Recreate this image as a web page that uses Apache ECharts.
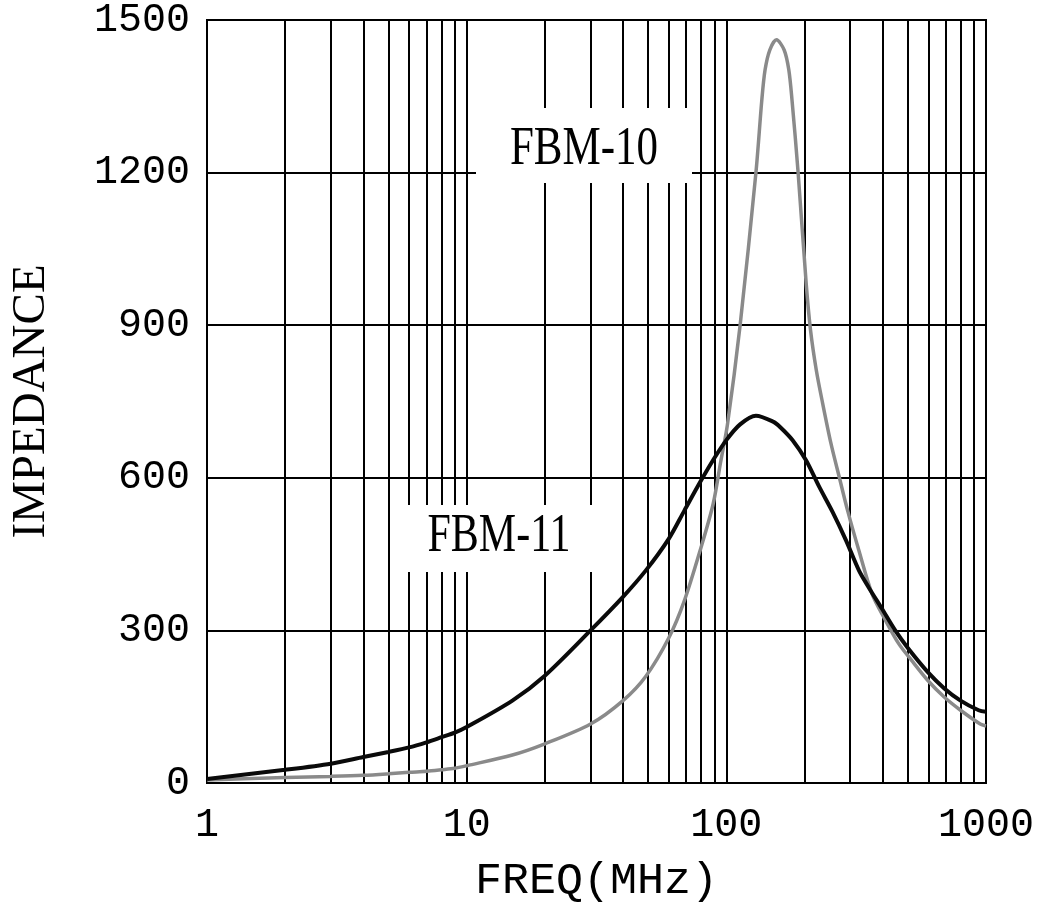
<!DOCTYPE html>
<html>
<head>
<meta charset="utf-8">
<script src="https://cdn.jsdelivr.net/npm/echarts@6/dist/echarts.min.js"></script>
<style>
html,body{margin:0;padding:0;background:#fff;}
#chart{width:1044px;height:919px;}
</style>
</head>
<body>
<div id="chart"></div>
<script>
// FBM-11 (black curve)
const freq11 = [1,2,3,4,5,6,7,8,9,10,15,20,30,40,49,60,69,80,89,100,113,130,152,161,180,203,228,257,289,324,353,397,447,501,597,691,798,937,1000];
const imp11  = [8,26,38,51,61,70,80,90,99,110,162,211,300,366,418,480,536,595,635,674,705,722,710,700,674,634,582,532,477,418,385,343,300,265,218,186,162,143,140];
// FBM-10 (gray curve)
const freq10 = [1,2,3,4,5,6,7,8,9,10,15,20,30,40,49,60,69,80,89,95,101,113,130,137,141,147,156,167,174,179,189,203,211,222,235,253,272,293,324,364,410,461,517,596,690,798,950,1000];
const imp10  = [6,11,13,15,18,21,23,26,29,34,55,77,116,162,210,285,359,464,549,630,705,900,1200,1343,1402,1441,1461,1441,1402,1343,1200,982,890,812,746,667,602,536,457,372,320,274,241,202,169,143,116,112];
// minor vertical grid lines
const minorFreqs = [2,3,4,5,6,7,8,9,20,30,40,50,60,70,80,90,200,300,400,500,600,700,800,900];
const seriesNames = ['FBM-10','FBM-11'];
const xTitle = 'FREQ(MHz)';
const yTitle = 'IMPEDANCE';

const chart = echarts.init(document.getElementById('chart'), null, {renderer:'canvas'});
const zip = (a,b) => a.map((v,i)=>[v,b[i]]);
const option = {
  animation:false,
  backgroundColor:'#ffffff',
  grid:{left:198,right:58,top:19,bottom:136,show:true,borderColor:'#000',borderWidth:2,backgroundColor:'transparent'},
  xAxis:{
    type:'log', logBase:10, min:1, max:1000,
    name:xTitle, nameLocation:'middle', nameGap:76,
    nameTextStyle:{fontFamily:'Liberation Mono',fontSize:45,color:'#000'},
    axisLine:{show:true,lineStyle:{color:'#000',width:2}},
    axisTick:{show:false},
    axisLabel:{fontFamily:'Liberation Mono',fontSize:40,color:'#000',margin:22,showMinLabel:true,showMaxLabel:true,
      formatter:v=>String(Math.round(v))},
    splitLine:{show:true,lineStyle:{color:'#000',width:2}}
  },
  yAxis:{
    type:'value', min:0, max:1500, interval:300,
    name:yTitle, nameLocation:'middle', nameGap:152,
    nameTextStyle:{fontFamily:'Liberation Serif',fontSize:47,color:'#000'},
    axisLine:{show:true,lineStyle:{color:'#000',width:2}},
    axisTick:{show:false},
    axisLabel:{fontFamily:'Liberation Mono',fontSize:40,color:'#000',margin:17,formatter:v=>String(v)},
    splitLine:{show:true,lineStyle:{color:'#000',width:2}}
  },
  graphic:[
    {type:'rect',z:5,shape:{x:476,y:108,width:216,height:75},style:{fill:'#fff'}},
    {type:'text',z:6,x:584,y:149,scaleY:1.3,style:{text:seriesNames[0],font:'43px "Liberation Serif"',fill:'#000',textAlign:'center',textVerticalAlign:'middle'}},
    {type:'rect',z:5,shape:{x:390,y:505,width:207,height:67},style:{fill:'#fff'}},
    {type:'text',z:6,x:499,y:537,scaleY:1.3,style:{text:seriesNames[1],font:'42px "Liberation Serif"',fill:'#000',textAlign:'center',textVerticalAlign:'middle'}}
  ],
  series:[
    {type:'line',name:'minorGrid',z:1,data:[[1,0]],symbol:'none',lineStyle:{width:0},silent:true,
      markLine:{z:1,silent:true,symbol:['none','none'],label:{show:false},animation:false,
        lineStyle:{color:'#000',width:2,type:'solid'},
        emphasis:{disabled:true},
        data:minorFreqs.map(f=>({xAxis:f}))}},
    {type:'line',name:seriesNames[0],z:10,data:zip(freq10,imp10),smooth:0.3,symbol:'none',
      lineStyle:{color:'#8a8a8a',width:3.5}},
    {type:'line',name:seriesNames[1],z:11,data:zip(freq11,imp11),smooth:0.3,symbol:'none',
      lineStyle:{color:'#0a0a0a',width:4}}
  ]
};
chart.setOption(option);
</script>
</body>
</html>
